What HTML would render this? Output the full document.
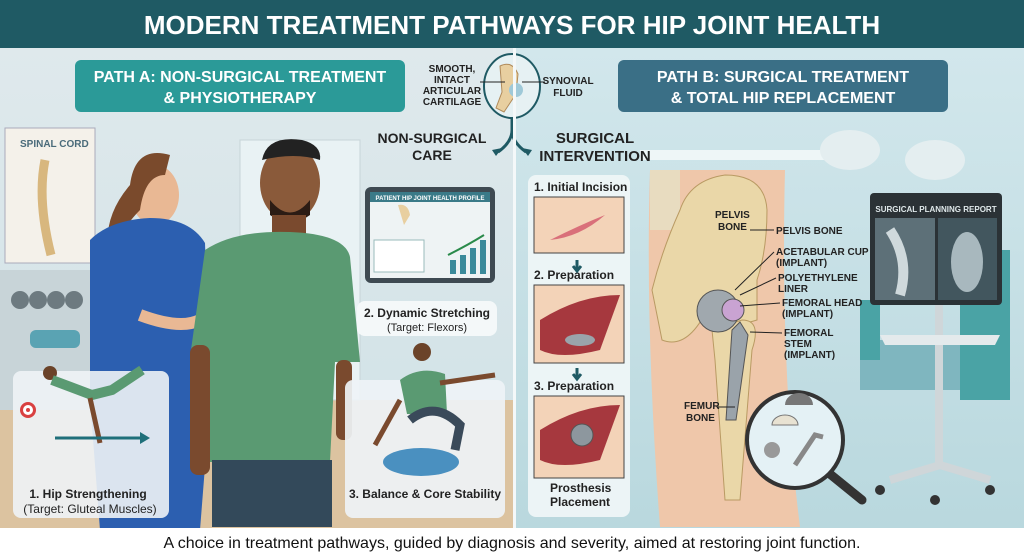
<!DOCTYPE html>
<html><head><meta charset="utf-8"><style>
html,body{margin:0;padding:0;width:1024px;height:559px;overflow:hidden;background:#fff}
svg{display:block}
text{font-family:"Liberation Sans",sans-serif}
.b{font-weight:bold}
</style></head><body>
<svg width="1024" height="559" viewBox="0 0 1024 559" xmlns="http://www.w3.org/2000/svg">
<defs>
<linearGradient id="lbg" x1="0" y1="0" x2="0" y2="1"><stop offset="0" stop-color="#dfe9ec"/><stop offset="1" stop-color="#cfe1e6"/></linearGradient>
<linearGradient id="rbg" x1="0" y1="0" x2="0" y2="1"><stop offset="0" stop-color="#d2e7ec"/><stop offset="1" stop-color="#b9d8de"/></linearGradient>
</defs>
<rect x="0" y="48" width="515" height="480" fill="url(#lbg)"/>
<rect x="515" y="48" width="509" height="480" fill="url(#rbg)"/>
<rect x="0" y="400" width="515" height="128" fill="#dcc3a0"/>
<rect x="240" y="140" width="120" height="260" fill="#e9f2f4" stroke="#c7d4d8"/>
<rect x="0" y="270" width="100" height="140" fill="#c8d4d8"/>
<g fill="#6d7a80"><circle cx="20" cy="300" r="9"/><circle cx="38" cy="300" r="9"/><circle cx="56" cy="300" r="9"/><circle cx="74" cy="300" r="9"/></g>
<rect x="30" y="330" width="50" height="18" rx="6" fill="#5aa3b3"/>
<rect x="5" y="128" width="90" height="135" fill="#f4f1ea" stroke="#aab"/>
<text x="20" y="147" font-size="10" class="b" fill="#4a6b7a">SPINAL CORD</text>
<path d="M45 160 q-8 40 6 95" stroke="#d8b77e" stroke-width="9" fill="none"/>
<rect x="640" y="150" width="200" height="10" fill="#eef6f7"/>
<ellipse cx="850" cy="150" rx="30" ry="20" fill="#e4eef0"/>
<ellipse cx="935" cy="160" rx="30" ry="20" fill="#e4eef0"/>
<rect x="860" y="340" width="100" height="50" fill="#7fb6bf"/>
<rect x="960" y="250" width="50" height="150" fill="#4aa3a5"/>
<rect x="860" y="300" width="20" height="60" fill="#4aa3a5"/>
<rect x="0" y="0" width="1024" height="48" fill="#1f5a64"/>
<text x="512" y="34" font-size="26" class="b" fill="#fff" text-anchor="middle">MODERN TREATMENT PATHWAYS FOR HIP JOINT HEALTH</text>
<rect x="75" y="60" width="330" height="52" rx="6" fill="#2b9a98"/>
<text x="240" y="82" font-size="16" class="b" fill="#fff" text-anchor="middle">PATH A: NON-SURGICAL TREATMENT</text>
<text x="240" y="103" font-size="16" class="b" fill="#fff" text-anchor="middle">&amp; PHYSIOTHERAPY</text>
<rect x="618" y="60" width="330" height="52" rx="6" fill="#3a6f86"/>
<text x="783" y="82" font-size="16" class="b" fill="#fff" text-anchor="middle">PATH B: SURGICAL TREATMENT</text>
<text x="783" y="103" font-size="16" class="b" fill="#fff" text-anchor="middle">&amp; TOTAL HIP REPLACEMENT</text>
<ellipse cx="512" cy="86" rx="28" ry="32" fill="#e6f1f3" stroke="#1f5a64" stroke-width="2"/>
<path d="M500 66 q12 -6 18 8 l-2 20 l-12 18 l-8 -4 l6 -16 z" fill="#e8cfa0" stroke="#b08a5a"/>
<circle cx="516" cy="90" r="7" fill="#9fc9d8"/>
<g font-size="10" class="b" fill="#222" text-anchor="middle">
<text x="452" y="72">SMOOTH,</text><text x="452" y="83">INTACT</text><text x="452" y="94">ARTICULAR</text><text x="452" y="105">CARTILAGE</text>
<text x="568" y="84">SYNOVIAL</text><text x="568" y="96">FLUID</text></g>
<line x1="480" y1="82" x2="505" y2="82" stroke="#222"/><line x1="522" y1="82" x2="545" y2="82" stroke="#222"/>
<path d="M512 118 v12 q0 12 -14 22 M512 130 q0 12 14 22" stroke="#1f5a64" stroke-width="3" fill="none"/>
<path d="M492 150 l10 -2 l-6 8z M532 150 l-10 -2 l6 8z" fill="#1f5a64"/>
<text x="432" y="143" font-size="14" class="b" fill="#222" text-anchor="middle">NON-SURGICAL</text>
<text x="432" y="160" font-size="14" class="b" fill="#222" text-anchor="middle">CARE</text>
<text x="595" y="143" font-size="15" class="b" fill="#222" text-anchor="middle">SURGICAL</text>
<text x="595" y="161" font-size="15" class="b" fill="#222" text-anchor="middle">INTERVENTION</text>
<ellipse cx="155" cy="195" rx="24" ry="30" fill="#e9b894"/>
<path d="M130 185 q5 -40 40 -30 l-5 20 q-20 0 -25 35 q-20 20 -30 50 q-10 -40 20 -75z" fill="#7a4a2c"/>
<path d="M90 240 q20 -20 60 -22 q40 0 55 25 l5 160 l-10 127 h-100 l-10 -130 z" fill="#2c5fb0"/>
<path d="M200 320 q-20 10 -60 -5" stroke="#e9b894" stroke-width="12" fill="none"/>
<ellipse cx="290" cy="183" rx="30" ry="38" fill="#8a5a3a"/>
<path d="M262 160 q5 -25 40 -20 q20 5 18 20 q-25 -8 -58 0z" fill="#222"/>
<path d="M270 200 q20 25 40 0 l0 15 q-20 15 -40 0z" fill="#2c1c14"/>
<rect x="272" y="215" width="34" height="25" fill="#7a4a2e"/>
<path d="M205 250 q30 -20 85 -18 q55 2 60 25 l10 105 h-25 l-5 100 h-120 l-5 -105 h-15 z" fill="#5a9a72"/>
<rect x="190" y="345" width="20" height="130" fill="#7a4a2e" rx="8"/>
<rect x="336" y="360" width="16" height="80" fill="#7a4a2e" rx="7"/>
<rect x="212" y="460" width="120" height="67" fill="#33495a"/>
<rect x="13" y="371" width="156" height="147" rx="8" fill="#eef3f6" opacity="0.9"/>
<circle cx="28" cy="410" r="8" fill="#d94040"/><circle cx="28" cy="410" r="5" fill="#fff"/><circle cx="28" cy="410" r="2" fill="#d94040"/>
<circle cx="50" cy="373" r="7" fill="#6b4329"/>
<path d="M52 380 l40 15 l20 -5 l30 -20" stroke="#5a9a72" stroke-width="10" fill="none"/>
<path d="M90 398 l10 45" stroke="#7a4a2e" stroke-width="5"/>
<line x1="55" y1="438" x2="140" y2="438" stroke="#1f6f7a" stroke-width="3"/><path d="M140 432 l10 6 l-10 6z" fill="#1f6f7a"/>
<text x="88" y="498" font-size="12" class="b" fill="#222" text-anchor="middle">1. Hip Strengthening</text>
<text x="90" y="513" font-size="12" fill="#222" text-anchor="middle">(Target: Gluteal Muscles)</text>
<rect x="365" y="187" width="130" height="96" rx="6" fill="#3e4a52"/>
<rect x="370" y="192" width="120" height="86" fill="#eef3f4"/>
<rect x="370" y="192" width="120" height="10" fill="#3a7a88"/>
<text x="430" y="200" font-size="6" class="b" fill="#fff" text-anchor="middle">PATIENT HIP JOINT HEALTH PROFILE</text>
<path d="M398 205 q10 -2 12 10 l-6 10 z" fill="#e8cfa0"/>
<g fill="#3a8a9a"><rect x="450" y="260" width="6" height="14"/><rect x="460" y="255" width="6" height="19"/><rect x="470" y="248" width="6" height="26"/><rect x="480" y="240" width="6" height="34"/></g>
<path d="M448 255 q20 -10 36 -20" stroke="#2a8a4a" stroke-width="2" fill="none"/>
<rect x="374" y="240" width="50" height="32" fill="#fff" stroke="#9bb"/>
<rect x="357" y="301" width="140" height="35" rx="8" fill="#f4f8f9"/>
<text x="427" y="317" font-size="12" class="b" fill="#222" text-anchor="middle">2. Dynamic Stretching</text>
<text x="427" y="331" font-size="11" fill="#222" text-anchor="middle">(Target: Flexors)</text>
<rect x="345" y="380" width="160" height="138" rx="8" fill="#eef3f6" opacity="0.92"/>
<ellipse cx="421" cy="462" rx="38" ry="14" fill="#4a90c0"/>
<circle cx="422" cy="352" r="9" fill="#6b4329"/>
<path d="M400 380 q20 -15 45 -6 l2 40 l-40 0z" fill="#5a9a72"/>
<path d="M440 383 l55 -8" stroke="#7a4a2e" stroke-width="5"/>
<path d="M400 400 l-25 45" stroke="#7a4a2e" stroke-width="5"/>
<path d="M410 420 q25 -20 50 5 l-5 25" stroke="#3a4a5a" stroke-width="9" fill="none"/>
<text x="425" y="498" font-size="12" class="b" fill="#222" text-anchor="middle">3. Balance &amp; Core Stability</text>
<rect x="513" y="48" width="3" height="480" fill="#f4f8f9"/>
<rect x="528" y="175" width="102" height="342" rx="8" fill="#eef5f7" opacity="0.95"/>
<g font-size="12" class="b" fill="#222">
<text x="534" y="191">1. Initial Incision</text>
<text x="534" y="279">2. Preparation</text>
<text x="534" y="390">3. Preparation</text>
<text x="550" y="492">Prosthesis</text><text x="550" y="506">Placement</text></g>
<g stroke="#444" fill="#f3d3b8">
<rect x="534" y="197" width="90" height="56"/><rect x="534" y="285" width="90" height="78"/><rect x="534" y="396" width="90" height="82"/></g>
<path d="M550 240 q30 -15 55 -25 q-25 22 -55 25z" fill="#d9707a"/>
<path d="M540 320 q40 -25 80 -25 l-20 55 q-40 10 -60 0z" fill="#a6383e"/>
<ellipse cx="580" cy="340" rx="15" ry="6" fill="#9aa4ab"/>
<path d="M540 430 q40 -25 80 -25 l-20 55 q-40 10 -60 0z" fill="#a6383e"/>
<circle cx="582" cy="435" r="11" fill="#8d979e" stroke="#555"/>
<path d="M577 260 v10 M573 266 l4 5 l4 -5 M577 368 v10 M573 374 l4 5 l4 -5" stroke="#1f5a64" stroke-width="3" fill="none"/>
<path d="M650 170 h135 q-5 200 15 357 h-140 q-15 -200 -10 -357z" fill="#efc7aa"/>
<rect x="650" y="170" width="30" height="60" fill="#e8dcc0"/>
<path d="M680 210 q10 -30 45 -35 q40 0 42 35 q0 40 -10 70 l0 40 q-30 10 -50 -10 q-20 40 -45 30 l-10 -50 q10 -40 28 -80z" fill="#ead7a8" stroke="#b99a63"/>
<path d="M712 330 l30 -10 q20 0 10 30 l-12 150 h-15 l-10 -140z" fill="#ead7a8" stroke="#b99a63"/>
<circle cx="718" cy="311" r="21" fill="#a0a8ae" stroke="#555"/>
<circle cx="733" cy="310" r="11" fill="#c9a3d2" stroke="#555"/>
<path d="M740 322 l-8 8 l-6 90 l10 0 l12 -85 z" fill="#9aa3aa" stroke="#555"/>
<g font-size="10" class="b" fill="#222">
<text x="715" y="218">PELVIS</text><text x="718" y="230">BONE</text>
<text x="776" y="234">PELVIS BONE</text>
<text x="776" y="255">ACETABULAR CUP</text><text x="776" y="266">(IMPLANT)</text>
<text x="778" y="281">POLYETHYLENE</text><text x="778" y="292">LINER</text>
<text x="782" y="306">FEMORAL HEAD</text><text x="782" y="317">(IMPLANT)</text>
<text x="784" y="336">FEMORAL</text><text x="784" y="347">STEM</text><text x="784" y="358">(IMPLANT)</text>
<text x="684" y="409">FEMUR</text><text x="686" y="421">BONE</text></g>
<g stroke="#222" stroke-width="1"><line x1="750" y1="230" x2="774" y2="230"/><line x1="735" y1="290" x2="774" y2="252"/><line x1="740" y1="295" x2="776" y2="278"/><line x1="740" y1="306" x2="780" y2="303"/><line x1="750" y1="332" x2="782" y2="333"/><line x1="718" y1="407" x2="735" y2="407"/></g>
<line x1="825" y1="470" x2="862" y2="500" stroke="#333" stroke-width="9" stroke-linecap="round"/>
<circle cx="795" cy="440" r="48" fill="#e4f1f5" stroke="#333" stroke-width="4"/>
<path d="M785 405 a14 12 0 0 1 28 0z" fill="#777"/>
<path d="M772 425 a13 10 0 0 1 26 0z" fill="#e8e2d2" stroke="#777"/>
<circle cx="772" cy="450" r="8" fill="#999"/>
<path d="M795 465 l20 -30 l8 2" stroke="#888" stroke-width="5" fill="none"/>
<rect x="935" y="305" width="8" height="160" fill="#cfd6d9"/>
<path d="M880 335 h120 l-5 10 h-110z" fill="#e4eaec"/>
<path d="M890 480 l50 -15 l50 15" stroke="#cfd6d9" stroke-width="8" fill="none"/>
<circle cx="880" cy="490" r="5" fill="#333"/><circle cx="990" cy="490" r="5" fill="#333"/><circle cx="935" cy="500" r="5" fill="#333"/>
<rect x="870" y="193" width="132" height="112" rx="4" fill="#2b3236"/>
<rect x="875" y="218" width="60" height="82" fill="#5d7078"/>
<rect x="938" y="218" width="59" height="82" fill="#42565e"/>
<ellipse cx="967" cy="262" rx="16" ry="30" fill="#a8b8be"/>
<path d="M890 230 q20 30 10 65" stroke="#cfd9dc" stroke-width="10" fill="none"/>
<text x="936" y="212" font-size="8" class="b" fill="#dfe8ea" text-anchor="middle">SURGICAL PLANNING REPORT</text>
<rect x="0" y="528" width="1024" height="31" fill="#fff"/>
<text x="512" y="548" font-size="16" fill="#111" text-anchor="middle">A choice in treatment pathways, guided by diagnosis and severity, aimed at restoring joint function.</text>
</svg>
</body></html>
